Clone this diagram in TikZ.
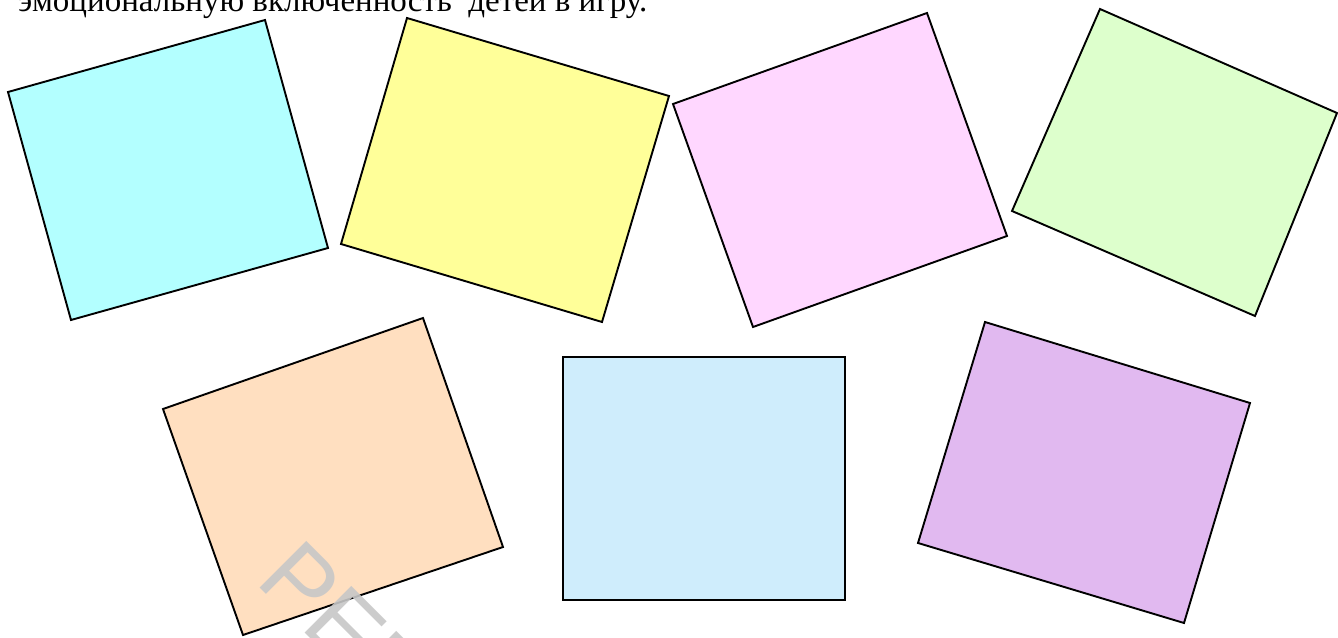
\documentclass[tikz,border=0pt]{standalone}
\usepackage{fontspec}
\setmainfont{Liberation Serif}
\newfontfamily\stampfont{Liberation Sans}
\usepackage{tikz}

\definecolor{cardcyan}{HTML}{B3FFFF}
\definecolor{cardyellow}{HTML}{FFFF99}
\definecolor{cardpink}{HTML}{FFD7FF}
\definecolor{cardgreen}{HTML}{DDFFCC}
\definecolor{cardpeach}{HTML}{FFDFC0}
\definecolor{cardblue}{HTML}{CFEDFC}
\definecolor{cardviolet}{HTML}{E1B9F0}

\begin{document}
\begin{tikzpicture}[x=1pt,y=-1pt]
	\tikzstyle{card} = [draw=black, line width=1.9pt, line join=miter];
	\tikzstyle{stamp} = [text=black!22, opacity=0.9, font=\stampfont\fontsize{96}{96}\selectfont, inner sep=0pt];
	\useasboundingbox (0,0) rectangle (1338,637);
	\clip (0,0) rectangle (1338,637);
	
	\node[anchor=base west, inner sep=0pt, font=\fontsize{33}{36}\selectfont] (T) at (18,11) {эмоциональную включенность\ \ детей в игру.};
	
	% upper row
	\draw[card, fill=cardcyan] (8,92) -- (265,20) -- (328,248) -- (71,320) -- cycle;
	\draw[card, fill=cardyellow] (407,18) -- (669,96) -- (602,322) -- (341,244) -- cycle;
	\draw[card, fill=cardpink] (673,104) -- (927,13) -- (1007,236) -- (753,327) -- cycle;
	\draw[card, fill=cardgreen] (1100,9) -- (1337,113) -- (1255,316) -- (1012,211) -- cycle;
	
	% lower row
	\draw[card, fill=cardpeach] (163,409) -- (423,318) -- (503,547) -- (243,635) -- cycle;
	\draw[card, fill=cardblue] (563,357) rectangle (845,600);
	\draw[card, fill=cardviolet] (985,322) -- (1250,403) -- (1184,623) -- (918,543) -- cycle;
	
	\node[stamp, anchor=base west, rotate=-45] (W) at (254,582) {РЕПОЗИТОРИЙ};
\end{tikzpicture}
\end{document}
